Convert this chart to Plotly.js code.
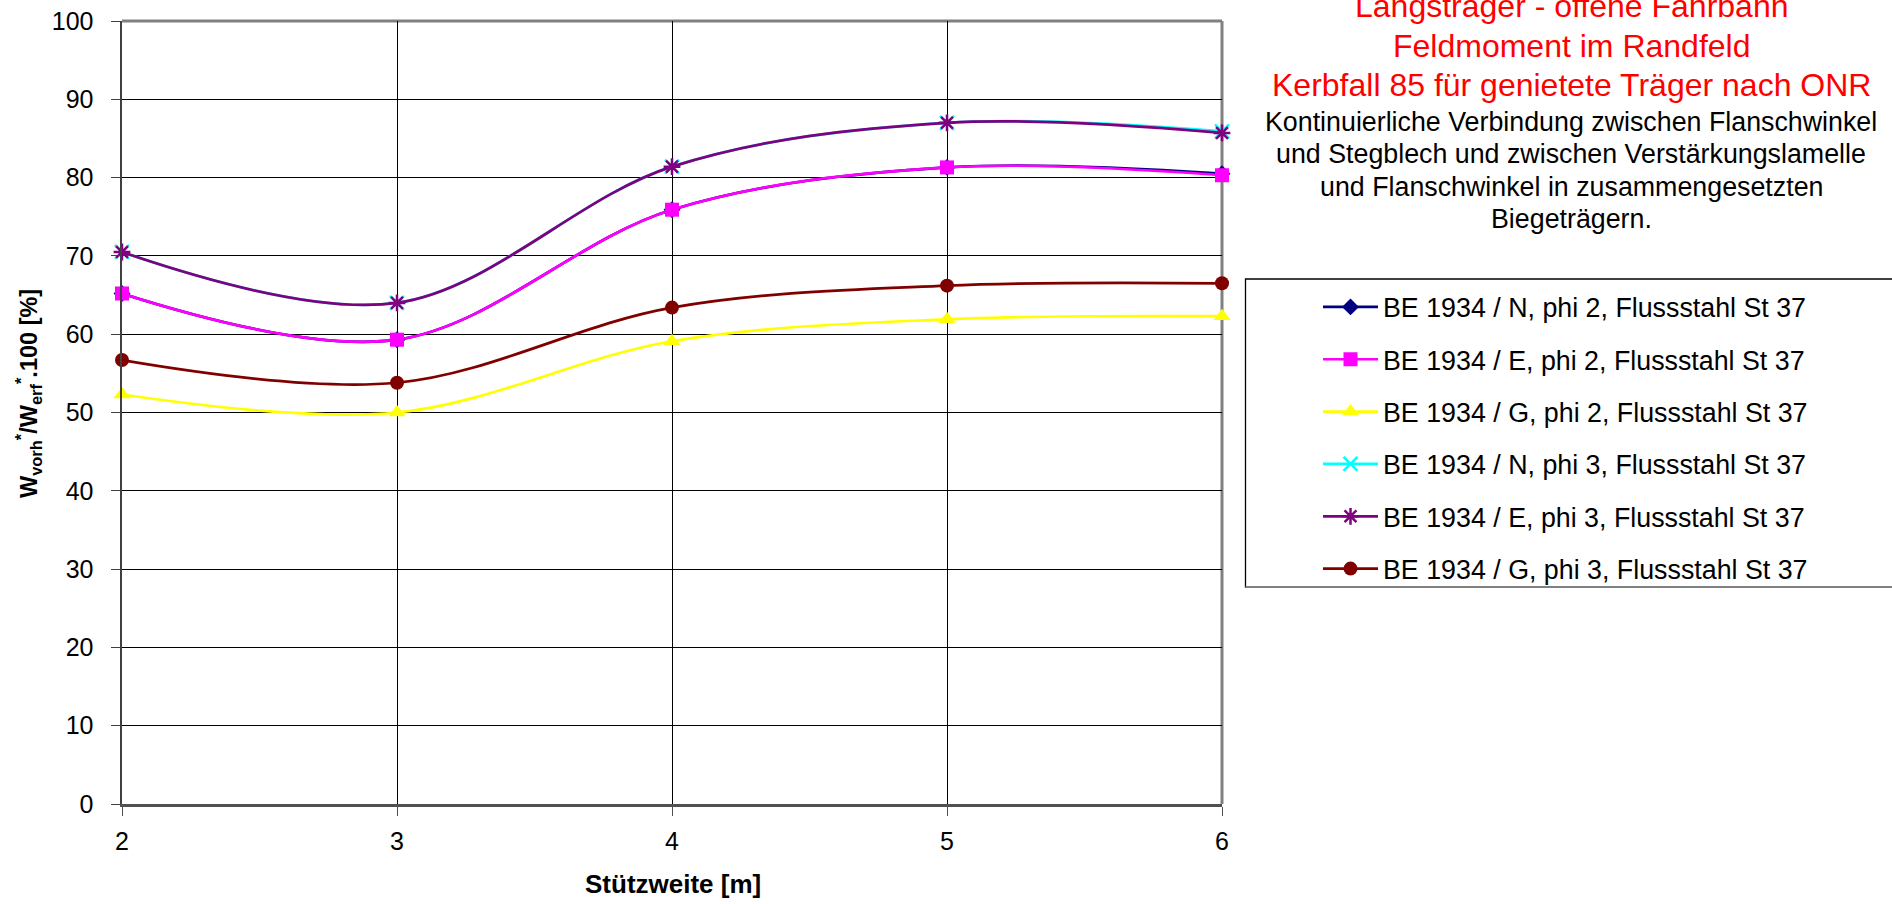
<!DOCTYPE html>
<html>
<head>
<meta charset="utf-8">
<script src="https://cdn.plot.ly/plotly-3.0.1.min.js"></script>
<style>html,body{margin:0;padding:0;background:#fff;}#chart{width:1892px;height:904px;}</style>
</head>
<body>
<div id="chart"></div>
<script>
// ---- data ----
const spans = [2, 3, 4, 5, 6];
const seriesNames = [
  "BE 1934 / N, phi 2, Flussstahl St 37",
  "BE 1934 / E, phi 2, Flussstahl St 37",
  "BE 1934 / G, phi 2, Flussstahl St 37",
  "BE 1934 / N, phi 3, Flussstahl St 37",
  "BE 1934 / E, phi 3, Flussstahl St 37",
  "BE 1934 / G, phi 3, Flussstahl St 37"
];
const nPhi2 = [65.2, 59.3, 75.9, 81.3, 80.5];
const ePhi2 = [65.2, 59.3, 75.9, 81.3, 80.3];
const gPhi2 = [52.3, 50.0, 59.1, 61.9, 62.3];
const nPhi3 = [70.5, 64.0, 81.4, 87.0, 85.9];
const ePhi3 = [70.5, 64.0, 81.4, 87.0, 85.7];
const gPhi3 = [56.7, 53.8, 63.4, 66.2, 66.5];
const xTickVals = [2, 3, 4, 5, 6];
const yTickVals = [0, 10, 20, 30, 40, 50, 60, 70, 80, 90, 100];
const titleRed = ["Längsträger - offene Fahrbahn", "Feldmoment im Randfeld", "Kerbfall 85 für genietete Träger nach ONR"];
const titleBlack = ["Kontinuierliche Verbindung zwischen Flanschwinkel", "und Stegblech und zwischen Verstärkungslamelle", "und Flanschwinkel in zusammengesetzten", "Biegeträgern."];
const xTitle = "Stützweite [m]";
const yTitle = "W<sub>vorh</sub><sup>*</sup>/W<sub>erf</sub><sup>*</sup>.100 [%]";

// ---- styles ----
const FONT = "Liberation Sans, Arial, Helvetica, sans-serif";
const values = [nPhi2, ePhi2, gPhi2, nPhi3, ePhi3, gPhi3];
const styles = [
  {color: "#000080", symbol: "diamond", size: 13},
  {color: "#FF00FF", symbol: "square", size: 14},
  {color: "#FFFF00", symbol: "triangle-up", size: 15},
  {color: "#00FFFF", symbol: "x-thin-open", size: 14},
  {color: "#800080", symbol: "asterisk-open", size: 14},
  {color: "#800000", symbol: "circle", size: 14}
];

const traces = values.map((v, i) => {
  const s = styles[i];
  const open = s.symbol.indexOf("open") >= 0;
  return {
    type: "scatter",
    mode: "lines+markers",
    x: spans,
    y: v,
    name: seriesNames[i],
    legendgroup: "g" + i,
    cliponaxis: false,
    line: {color: s.color, width: 2.7, shape: "spline", smoothing: 1},
    marker: {symbol: s.symbol, size: s.size, color: s.color,
             line: {color: s.color, width: open ? 2.5 : 0}}
  };
});

// plot area in px
const L = 122, R = 1222, T = 21, B = 804, W = 1892, H = 904;
const pw = R - L, ph = B - T;
const px2x = (x) => (x - L) / pw;
const px2y = (y) => (B - y) / ph;

const annotations = [];
titleRed.forEach((t, i) => {
  annotations.push({xref: "paper", yref: "paper", x: px2x(1571), y: px2y(6 + 39.5 * i),
    xanchor: "center", yanchor: "middle", showarrow: false, text: t,
    font: {family: FONT, size: 32, color: "#FF0000"}});
});
titleBlack.forEach((t, i) => {
  annotations.push({xref: "paper", yref: "paper", x: px2x(1571), y: px2y(122 + 32.3 * i),
    xanchor: "center", yanchor: "middle", showarrow: false, text: t,
    font: {family: FONT, size: 26.8, color: "#000000"}});
});
annotations.push({xref: "paper", yref: "paper", x: px2x(673), y: px2y(884),
  xanchor: "center", yanchor: "middle", showarrow: false, text: xTitle,
  font: {family: FONT, size: 26, color: "#000", weight: "bold"}});
annotations.push({xref: "paper", yref: "paper", x: px2x(29), y: px2y(394),
  xanchor: "center", yanchor: "middle", showarrow: false, text: yTitle, textangle: -90,
  font: {family: FONT, size: 23.5, color: "#000", weight: "bold"}});

const shapes = [
  // plot frame top/right (gray)
  {type: "line", xref: "paper", yref: "paper", x0: 0, x1: 1, y0: 1, y1: 1, layer: "between",
   line: {color: "#808080", width: 3}},
  {type: "line", xref: "paper", yref: "paper", x0: 1, x1: 1, y0: 0, y1: 1, layer: "between",
   line: {color: "#808080", width: 3}},
  // legend box
  {type: "rect", xref: "paper", yref: "paper", x0: px2x(1245.5), x1: px2x(1900), y0: px2y(587), y1: px2y(279),
   line: {color: "#000", width: 1.3}, fillcolor: "rgba(0,0,0,0)"},
  {type: "line", xref: "paper", yref: "paper", x0: px2x(1245.5), x1: px2x(1900), y0: px2y(587), y1: px2y(587),
   line: {color: "#808080", width: 2}}
];

const layout = {
  width: W, height: H,
  margin: {l: L, r: W - R, t: T, b: H - B, pad: 0},
  paper_bgcolor: "#fff", plot_bgcolor: "#fff",
  font: {family: FONT, color: "#000", size: 24},
  showlegend: true,
  legend: {x: px2x(1318), y: px2y(283), xanchor: "left", yanchor: "top",
           bgcolor: "rgba(0,0,0,0)", borderwidth: 0, itemwidth: 55,
           tracegroupgap: 14.5, traceorder: "grouped",
           font: {family: FONT, size: 26.8, color: "#000"}},
  xaxis: {range: [2, 6], tickvals: xTickVals, ticktext: xTickVals.map(String),
          showgrid: true, gridcolor: "#000", gridwidth: 1,
          showline: true, linecolor: "#505050", linewidth: 2.5,
          ticks: "outside", ticklen: 9, tickcolor: "#505050", tickwidth: 1,
          ticklabelstandoff: 4, zeroline: false,
          tickfont: {family: FONT, size: 25, color: "#000"}},
  yaxis: {range: [0, 100], tickvals: yTickVals, ticktext: yTickVals.map(String),
          showgrid: true, gridcolor: "#000", gridwidth: 1,
          showline: true, linecolor: "#404040", linewidth: 2.5,
          ticks: "outside", ticklen: 9, tickcolor: "#404040", tickwidth: 1,
          ticklabelstandoff: 12, zeroline: false,
          tickfont: {family: FONT, size: 25, color: "#000"}},
  annotations: annotations,
  shapes: shapes
};

Plotly.newPlot("chart", traces, layout, {displayModeBar: false, staticPlot: true});
</script>
</body>
</html>
